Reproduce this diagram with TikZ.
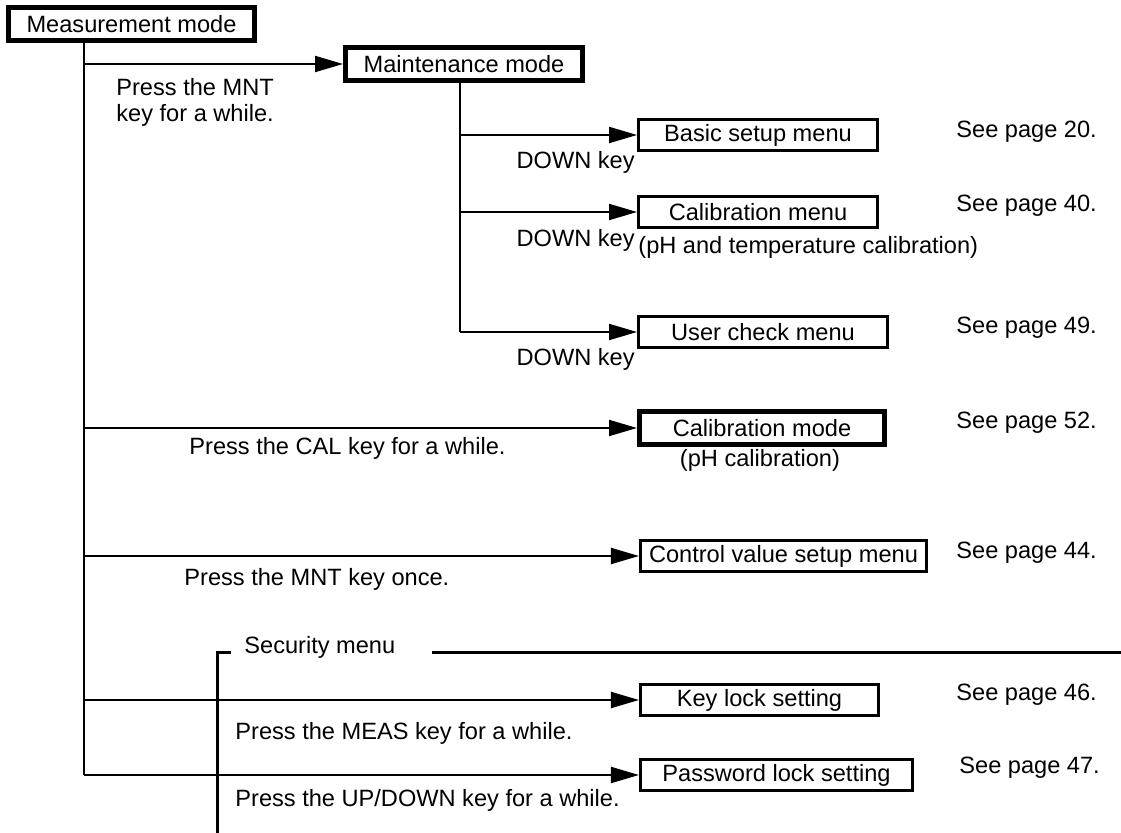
\documentclass[tikz,border=0pt]{standalone}
\usepackage{fontspec}
\setmainfont{Liberation Sans}
\usetikzlibrary{arrows.meta,positioning,calc}
\tikzset{
  modebox/.style={draw, line width=2.5pt, inner sep=0pt,
                  minimum width=#1, minimum height=16.5pt},
  menubox/.style={draw, line width=1.35pt, inner sep=0pt,
                  minimum width=#1, minimum height=15.6pt},
  keytxt/.style={inner sep=0pt, anchor=west, align=left},
  downtxt/.style={inner sep=0pt, anchor=east},
  pagetxt/.style={inner sep=0pt, anchor=west},
  link/.style={line width=1pt},
  go/.style={line width=1pt, -{Triangle[length=14pt,width=8pt]}},
  secline/.style={line width=1.5pt},
}

\begin{document}
\begin{tikzpicture}[x=0.5pt, y=-0.5pt,
  every node/.style={font=\fontsize{11.8}{13}\selectfont}]
\useasboundingbox (0,0) rectangle (1121,833);

% Modes and menus
\node[modebox=123pt] (meas) at (131.5,24.5) {Measurement mode};
\node[modebox=118.5pt] (maint) at (464,64) {Maintenance mode};
\node[menubox=119.6pt] (basic) at (758,135) {Basic setup menu};
\node[menubox=119.6pt] (calmenu) at (758,212) {Calibration menu};
\node[menubox=124.6pt] (usercheck) at (763,332) {User check menu};
\node[modebox=122.5pt] (calmode) at (762,428) {Calibration mode};
\node[menubox=143.2pt] (ctrl) at (783.5,556) {Control value setup menu};
\node[menubox=119.2pt] (keylock) at (759.5,700) {Key lock setting};
\node[menubox=136.2pt] (passlock) at (776.5,775) {Password lock setting};

% Trunks
\coordinate (trunk) at (84,0);
\coordinate (mtrunk) at (460,0);
\draw[link] (meas.south -| trunk) -- (trunk |- passlock.west);
\draw[link] (maint.south -| mtrunk) -- (mtrunk |- usercheck.west);

% Arrows
\draw[go] (trunk |- maint.west) -- (maint.west);
\draw[go] (mtrunk |- basic.west) -- (basic.west);
\draw[go] (mtrunk |- calmenu.west) -- (calmenu.west);
\draw[go] (mtrunk |- usercheck.west) -- (usercheck.west);
\draw[go] (trunk |- calmode.west) -- (calmode.west);
\draw[go] (trunk |- ctrl.west) -- (ctrl.west);
\draw[go] (trunk |- keylock.west) -- (keylock.west);
\draw[go] (trunk |- passlock.west) -- (passlock.west);

% Key labels
\node[keytxt] (mntlong) at (116,102) {Press the MNT\\key for a while.};
\node[downtxt] (down1) at (635,162) {DOWN key};
\node[downtxt] (down2) at (635,240) {DOWN key};
\node[downtxt] (down3) at (635,359) {DOWN key};
\node[keytxt] (callong) at (189,448) {Press the CAL key for a while.};
\node[keytxt] (mntonce) at (184,579) {Press the MNT key once.};
\node[keytxt] (measlong) at (235,733) {Press the MEAS key for a while.};
\node[keytxt] (updown) at (235,800) {Press the UP/DOWN key for a while.};

% Notes
\node[pagetxt] (temp) at (638,247) {(pH and temperature calibration)};
\node[inner sep=0pt] (phcal) at (760,460) {(pH calibration)};
\node[pagetxt] (p20) at (956,132) {See page 20.};
\node[pagetxt] (p40) at (956,206) {See page 40.};
\node[pagetxt] (p49) at (956,328) {See page 49.};
\node[pagetxt] (p52) at (956,423) {See page 52.};
\node[pagetxt] (p44) at (956,553) {See page 44.};
\node[pagetxt] (p46) at (956,695) {See page 46.};
\node[pagetxt] (p47) at (959,768) {See page 47.};

% Security menu
\node[pagetxt] (secmenu) at (244,647) {Security menu};
\coordinate (sectop) at (217,653);
\draw[secline] ($(sectop)+(14,0)$) -- (sectop) -- (217,833);
\draw[secline] (432,653) -- (1121,653);
\end{tikzpicture}
\end{document}
